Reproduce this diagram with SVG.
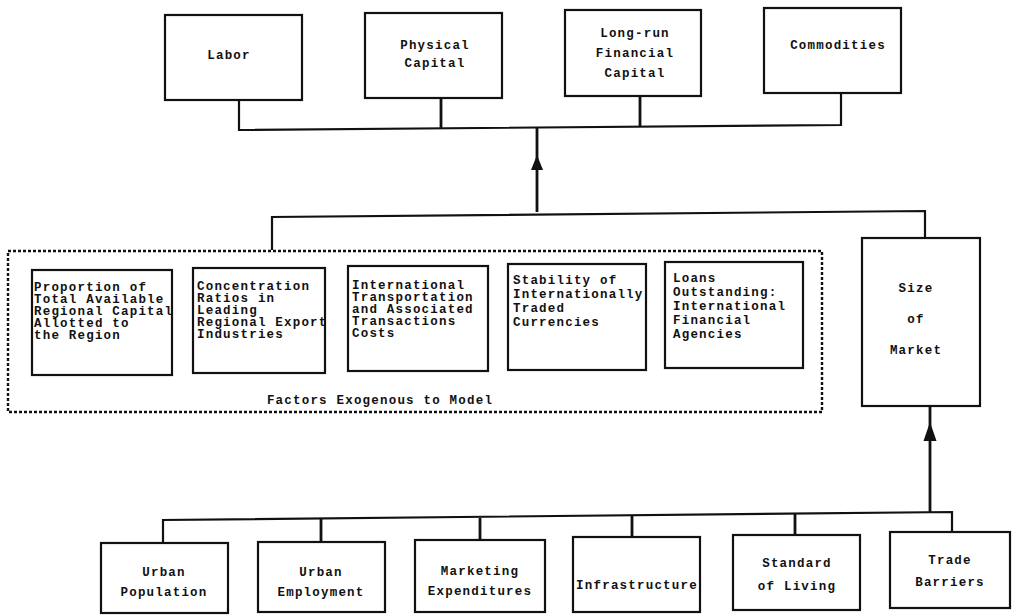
<svg xmlns="http://www.w3.org/2000/svg" width="1013" height="615" viewBox="0 0 1013 615">
<defs>
<style>
.box{fill:#fff;stroke:#111;stroke-width:2.2}
.t{font-family:"Liberation Mono","DejaVu Sans Mono",monospace;font-weight:bold;font-size:12.5px;letter-spacing:1.2px;fill:#111}
.c{text-anchor:middle}
.ln{fill:none;stroke:#111;stroke-width:2.2}
.st{fill:none;stroke:#111;stroke-width:2.8}
.dot{fill:none;stroke:#111;stroke-width:2.4;stroke-dasharray:3 2}
.ah{fill:#111}
</style>
</defs>
<rect width="1013" height="615" fill="#fff"/>

<g id="connectors">
<path class="ln" d="M239,100 V130 L841,125 V93"/>
<path class="st" d="M441,98 V129"/>
<path class="st" d="M640,96 V127"/>
<path class="st" d="M537,212 V127"/>
<path class="ah" d="M531,170 L537,155 L543,170 Z"/>
<path class="ln" d="M272,250 V217 L925,211 V238"/>
<path class="st" d="M930,512 V406"/>
<path class="ah" d="M923.5,441 L930,422 L936.5,441 Z"/>
<path class="ln" d="M163,543 V520 L952,512 V532"/>
<path class="st" d="M321,519 V542"/>
<path class="st" d="M480,518 V540"/>
<path class="st" d="M632,516 V537"/>
<path class="st" d="M795,514 V535"/>
</g>

<g id="labor"><rect class="box" x="165" y="15" width="137" height="85"/><text class="t c" x="229" y="59">Labor</text></g>
<g id="physical-capital"><rect class="box" x="365" y="13" width="137" height="85"/><text class="t c" x="435" y="49">Physical</text><text class="t c" x="435" y="67">Capital</text></g>
<g id="financial-capital"><rect class="box" x="565" y="10" width="136" height="86"/><text class="t c" x="635" y="37">Long-run</text><text class="t c" x="635" y="57">Financial</text><text class="t c" x="635" y="77">Capital</text></g>
<g id="commodities"><rect class="box" x="764" y="8" width="137" height="85"/><text class="t c" x="838" y="49">Commodities</text></g>

<g id="exogenous">
<rect class="dot" x="8" y="251" width="814" height="161"/>
<text class="t c" x="380" y="404">Factors Exogenous to Model</text>
</g>

<g id="capital-proportion"><rect class="box" x="32" y="270" width="140" height="105"/>
<text class="t"><tspan x="34" y="291">Proportion of</tspan><tspan x="34" y="303">Total Available</tspan><tspan x="34" y="315">Regional Capital</tspan><tspan x="34" y="327">Allotted to</tspan><tspan x="34" y="339">the Region</tspan></text></g>
<g id="concentration"><rect class="box" x="193" y="268" width="132" height="105"/>
<text class="t"><tspan x="197" y="290">Concentration</tspan><tspan x="197" y="302">Ratios in</tspan><tspan x="197" y="314">Leading</tspan><tspan x="197" y="326">Regional Export</tspan><tspan x="197" y="338">Industries</tspan></text></g>
<g id="transport-costs"><rect class="box" x="348" y="266" width="140" height="105"/>
<text class="t"><tspan x="352" y="289">International</tspan><tspan x="352" y="301">Transportation</tspan><tspan x="352" y="313">and Associated</tspan><tspan x="352" y="325">Transactions</tspan><tspan x="352" y="337">Costs</tspan></text></g>
<g id="currencies"><rect class="box" x="508" y="264" width="138" height="106"/>
<text class="t"><tspan x="513" y="284">Stability of</tspan><tspan x="513" y="298">Internationally</tspan><tspan x="513" y="312">Traded</tspan><tspan x="513" y="326">Currencies</tspan></text></g>
<g id="loans"><rect class="box" x="665" y="262" width="138" height="106"/>
<text class="t"><tspan x="673" y="282">Loans</tspan><tspan x="673" y="296">Outstanding:</tspan><tspan x="673" y="310">International</tspan><tspan x="673" y="324">Financial</tspan><tspan x="673" y="338">Agencies</tspan></text></g>

<g id="size-of-market"><rect class="box" x="862" y="238" width="118" height="168"/>
<text class="t c" x="916" y="292">Size</text><text class="t c" x="916" y="323">of</text><text class="t c" x="916" y="354">Market</text></g>

<g id="urban-population"><rect class="box" x="101" y="543" width="127" height="70"/><text class="t c" x="164" y="576">Urban</text><text class="t c" x="164" y="596">Population</text></g>
<g id="urban-employment"><rect class="box" x="258" y="542" width="127" height="70"/><text class="t c" x="321" y="576">Urban</text><text class="t c" x="321" y="596">Employment</text></g>
<g id="marketing"><rect class="box" x="415" y="540" width="130" height="72"/><text class="t c" x="480" y="575">Marketing</text><text class="t c" x="480" y="595">Expenditures</text></g>
<g id="infrastructure"><rect class="box" x="573" y="537" width="127" height="75"/><text class="t c" x="637" y="589">Infrastructure</text></g>
<g id="standard-of-living"><rect class="box" x="733" y="535" width="127" height="75"/><text class="t c" x="797" y="567">Standard</text><text class="t c" x="797" y="590">of Living</text></g>
<g id="trade-barriers"><rect class="box" x="890" y="532" width="120" height="76"/><text class="t c" x="950" y="564">Trade</text><text class="t c" x="950" y="586">Barriers</text></g>
</svg>
